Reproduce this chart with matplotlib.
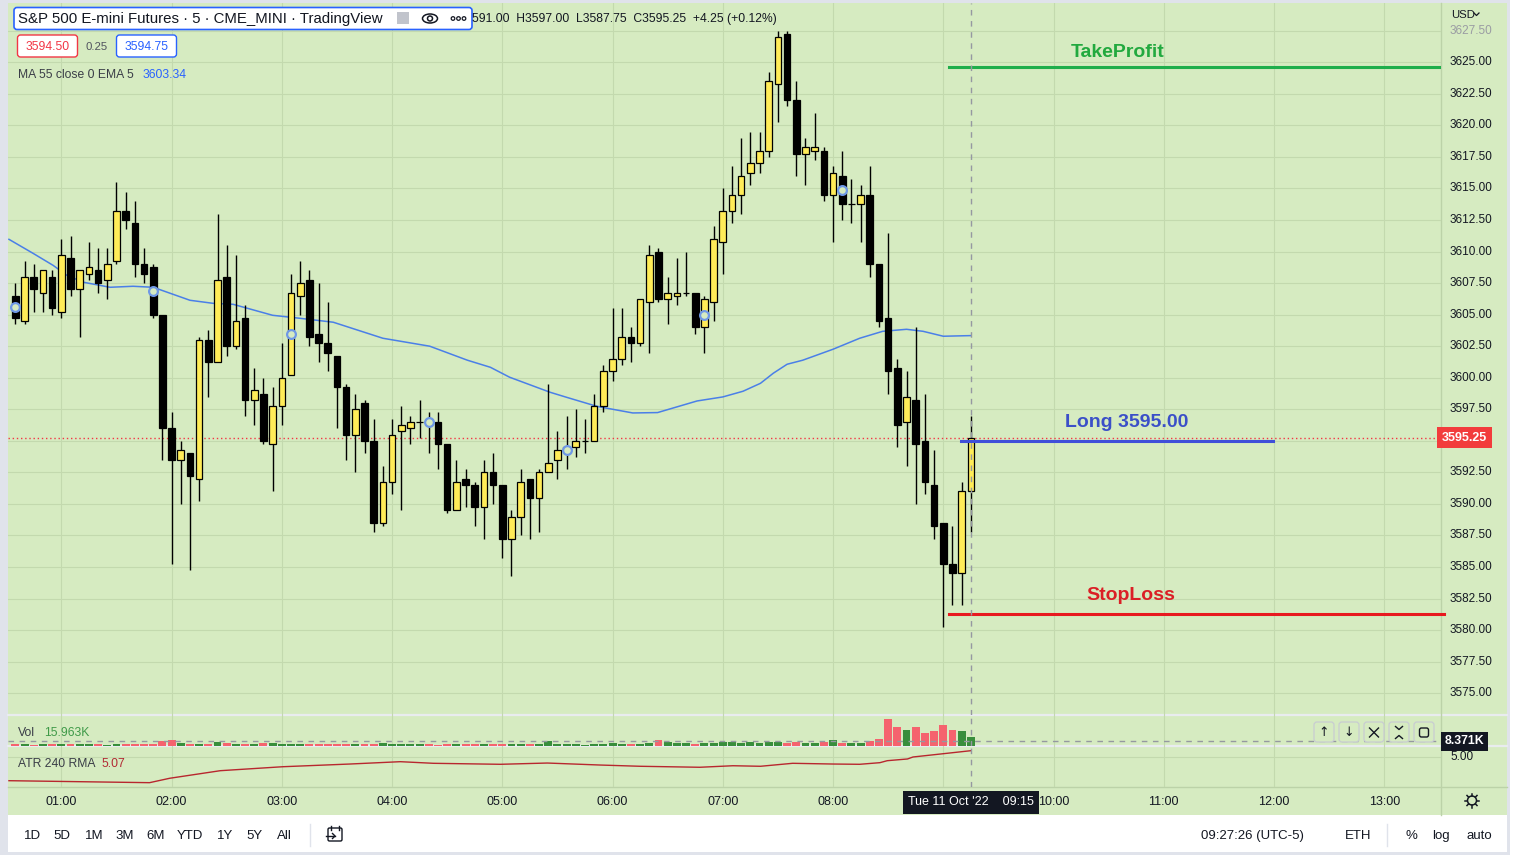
import matplotlib
matplotlib.use('Agg')
import matplotlib.pyplot as plt
from matplotlib.patches import Rectangle, FancyBboxPatch, Circle, Ellipse
from matplotlib.transforms import blended_transform_factory as btf

W, H = 1515, 855
plt.rcParams['font.family'] = ['Liberation Sans', 'DejaVu Sans']

# ---------------- data ----------------
start_minute = 35          # first bar 00:35, 5-minute bars
bar_minutes = 5
opens = [3606.5, 3604.5, 3608, 3606.75, 3608, 3605.25, 3609.5, 3607, 3608.25, 3608.5,
         3607.75, 3609.25, 3613.25, 3612.25, 3609, 3608.75, 3605, 3596, 3593.5, 3594,
         3592, 3603, 3601.25, 3608, 3602.5, 3604.75, 3598.25, 3598.75, 3594.75, 3597.75,
         3600.25, 3606.5, 3607.75, 3603.5, 3602.75, 3601.75, 3599.25, 3595.5, 3598, 3595,
         3588.5, 3591.75, 3595.75, 3596, 3596.5, 3596.5, 3596.5, 3594.75, 3589.5, 3592,
         3591.5, 3589.75, 3592.5, 3591.5, 3587.25, 3589, 3592, 3590.5, 3592.5, 3593.5,
         3594.25, 3594.5, 3595, 3595, 3597.75, 3600.5, 3601.5, 3603.25, 3602.75, 3606,
         3610, 3606.25, 3606.5, 3606.75, 3606.75, 3604, 3606, 3610.75, 3613.25, 3614.5,
         3616.25, 3617, 3618, 3623.25, 3627.25, 3622, 3617.75, 3618, 3618, 3614.5,
         3616, 3613.75, 3613.75, 3614.5, 3609, 3604.75, 3600.75, 3596.5, 3598.25, 3595,
         3591.5, 3588.5, 3585.25, 3584.5, 3591]
highs = [3607.5, 3609.25, 3609, 3608.5, 3608.5, 3611, 3611.25, 3608.5, 3610.75, 3610.25,
         3610.25, 3615.5, 3614.75, 3614, 3610.25, 3609, 3605, 3597.25, 3595, 3594,
         3603.25, 3603.75, 3613, 3610.5, 3609.75, 3605.75, 3600.75, 3600, 3599.25, 3602.75,
         3608.25, 3609.25, 3608.5, 3607.5, 3606, 3601.75, 3599.5, 3598.75, 3598.25, 3596.75,
         3593, 3596.75, 3597.75, 3597, 3598.25, 3597.25, 3597.25, 3594.75, 3593.5, 3592.75,
         3591.75, 3593.5, 3594, 3591.5, 3589.5, 3592.75, 3592, 3592.75, 3599.5, 3595.75,
         3597, 3597.5, 3596.75, 3598.75, 3601, 3605.5, 3605.5, 3604, 3606.25, 3610.5,
         3610.25, 3608, 3609.5, 3610, 3606.75, 3606.5, 3612, 3615, 3616.75, 3619,
         3619.5, 3619.5, 3624.25, 3627.5, 3627.5, 3623.5, 3619, 3621, 3618.25, 3616.75,
         3618, 3615.75, 3615.25, 3616.75, 3609, 3611.5, 3601.5, 3600.5, 3604, 3598.75,
         3594.25, 3588.5, 3588.25, 3591.75, 3597]
lows = [3604.25, 3604.25, 3605.25, 3605.25, 3605, 3604.75, 3606.5, 3603.25, 3607.75, 3606.75,
        3606.25, 3609, 3611.75, 3608, 3607.5, 3604.75, 3593.5, 3585.25, 3590, 3584.75,
        3590.25, 3598.5, 3601.25, 3601.75, 3602.25, 3597, 3596.25, 3594.75, 3591, 3596.25,
        3600.25, 3605, 3602.5, 3601.25, 3600.5, 3596, 3593.5, 3592.5, 3594, 3587.75,
        3588.25, 3590.75, 3589.5, 3594.75, 3595.25, 3594, 3592.75, 3589.25, 3589.5, 3589.75,
        3588.25, 3587.25, 3590, 3585.75, 3584.25, 3587.5, 3587.25, 3587.75, 3592.5, 3592,
        3592.75, 3593.75, 3594, 3595, 3597.25, 3599.75, 3601, 3601.25, 3602.5, 3602,
        3606, 3604.25, 3605.75, 3606.5, 3603.5, 3602, 3604.5, 3608.25, 3612.25, 3613,
        3615.25, 3616.25, 3617.5, 3620.25, 3621.5, 3616, 3615.25, 3617.25, 3614, 3610.75,
        3612.5, 3612.25, 3610.75, 3608, 3604, 3598.75, 3594.5, 3593, 3590, 3590.75,
        3587.25, 3580.25, 3582, 3582, 3587.75]
closes = [3604.75, 3608, 3607, 3608.5, 3605.5, 3609.75, 3607, 3608.5, 3608.75, 3607.5,
          3609, 3613.25, 3612.5, 3609, 3608.25, 3605, 3596, 3593.5, 3594.25, 3592.25,
          3603, 3601.25, 3607.75, 3602.5, 3604.5, 3598.25, 3599, 3595, 3597.75, 3600,
          3606.75, 3607.5, 3603.25, 3602.75, 3602, 3599.25, 3595.5, 3597.5, 3595, 3588.5,
          3591.75, 3595.5, 3596.25, 3596.5, 3596.5, 3596.25, 3594.75, 3589.5, 3591.75, 3591.5,
          3589.75, 3592.5, 3591.5, 3587.25, 3589, 3591.75, 3590.5, 3592.5, 3593.25, 3594.25,
          3594.5, 3595, 3595, 3597.75, 3600.5, 3601.5, 3603.25, 3602.75, 3606.25, 3609.75,
          3606.25, 3606.75, 3606.75, 3606.75, 3604, 3606.25, 3611, 3613.25, 3614.5, 3616,
          3617, 3618, 3623.5, 3627, 3622, 3617.75, 3618.25, 3618.25, 3614.5, 3616.25,
          3613.75, 3613.75, 3614.5, 3609, 3604.5, 3600.5, 3596.25, 3598.5, 3594.75, 3591.75,
          3588.25, 3585.25, 3584.5, 3591, 3595.25]
volumes_k = [3.5, 3.5, 2.0, 3.0, 3.5, 3.5, 3.5, 3.5, 3.5, 3.5,
             2.5, 3.0, 3.0, 3.5, 3.0, 3.0, 9.5, 10.6, 4.5, 4.0,
             4.0, 4.0, 7.5, 4.5, 3.5, 3.5, 3.5, 4.5, 4.5, 3.5,
             3.5, 3.5, 3.5, 3.5, 3.5, 3.5, 3.5, 3.5, 3.5, 3.5,
             4.5, 3.5, 3.5, 3.5, 3.5, 3.5, 2.0, 3.5, 3.5, 3.5,
             3.5, 3.5, 3.5, 3.5, 3.5, 3.5, 3.5, 3.5, 8.3, 3.5,
             3.5, 3.5, 1.8, 3.5, 3.5, 5.3, 3.5, 3.5, 3.5, 5.3,
             10.6, 7.1, 5.3, 5.3, 3.5, 5.3, 5.3, 7.1, 7.1, 5.3,
             7.1, 5.3, 7.1, 7.1, 5.3, 7.1, 5.3, 5.3, 7.1, 10.6,
             5.3, 5.3, 5.3, 8.9, 12.4, 47.9, 33.7, 28.4, 33.7, 23.0,
             26.6, 37.3, 28.4, 26.6, 15.963]
ma_idx = [-0.7, 1.9, 4.1, 5.6, 7.4, 10.3, 12.8, 15.0, 19.0, 21.5, 23.7, 28.0, 31.0, 34.6,
          40.0, 45.1, 49.2, 51.7, 53.8, 58.2, 60.0, 62.9, 63.6, 67.2, 69.9, 74.2, 77.0,
          79.2, 81.1, 82.5, 84.0, 85.7, 89.0, 91.9, 94.4, 97.0, 98.8, 101.0, 104.0]
ma_val = [3610.97, 3609.87, 3608.91, 3608.12, 3607.57, 3607.17, 3607.25, 3607.17, 3606.14,
          3605.90, 3605.82, 3604.95, 3604.71, 3604.40, 3603.13, 3602.50, 3601.39, 3600.83,
          3600.04, 3598.85, 3598.45, 3597.82, 3597.69, 3597.21, 3597.24, 3598.16, 3598.48,
          3598.93, 3599.56, 3600.36, 3601.07, 3601.39, 3602.26, 3603.13, 3603.68, 3603.84,
          3603.68, 3603.29, 3603.34]
atr_idx = [-0.7, 14.6, 16.8, 22.3, 29.1, 36.4, 41.9, 45.5, 52.8, 57.9, 63.6, 68.0, 74.5,
           78.1, 81.1, 84.6, 89.0, 91.9, 94.1, 94.9, 97.1, 97.7, 101.4, 104.0]
atr_val = [4.737, 4.715, 4.764, 4.848, 4.892, 4.922, 4.948, 4.930, 4.919, 4.933, 4.911,
           4.897, 4.886, 4.903, 4.897, 4.930, 4.922, 4.919, 4.937, 4.959, 4.978, 5.000,
           5.041, 5.070]
marker_idx = [0, 15, 30, 45, 60, 75, 90]
marker_val = [3605.6, 3606.9, 3603.5, 3596.5, 3594.3, 3605.0, 3614.85]
price_ticks = [3575 + 2.5 * k for k in range(22)]
hour_labels = ['01:00', '02:00', '03:00', '04:00', '05:00', '06:00', '07:00', '08:00',
               '09:00', '10:00', '11:00', '12:00', '13:00']
take_profit = 3624.6
entry_price = 3595.00
stop_loss = 3581.25
last_price = 3595.25
atr_tick = 5.00
crosshair_vol_k = 8.371

# ---------------- layout ----------------
PX_BAR, PX_I0 = 9.187, 15.4
X_L, X_AX, X_R = 8, 1441, 1507
Y_T, Y_MAIN, Y_VOL, Y_ATR, Y_TIME, Y_BOT = 3, 715, 746, 787, 815, 852
PX_PT = 12.618
P_TOP = 3625 + (62.3 - Y_T) / PX_PT
P_BOT = P_TOP - (Y_MAIN - Y_T) / PX_PT
XLIM = ((X_L - PX_I0) / PX_BAR, (X_AX - PX_I0) / PX_BAR)

BG = '#d6ebc1'
GRID = '#c3d9ae'
DARK = '#131722'
UP = '#ffec58'
VOL_UP, VOL_DN = '#388e3c', '#f5636e'
CROSS = '#9598a1'


def pos(x0, y0, x1, y1):
    return [x0 / W, 1 - y1 / H, (x1 - x0) / W, (y1 - y0) / H]


def hour_idx(lbl):
    h, m = lbl.split(':')
    return (int(h) * 60 + int(m) - start_minute) / bar_minutes


fig = plt.figure(figsize=(W / 100, H / 100), dpi=100, facecolor='#e0e3eb')

bg = fig.add_axes([0, 0, 1, 1], zorder=0)
bg.set_xlim(0, W); bg.set_ylim(H, 0); bg.axis('off')
bg.add_patch(Rectangle((X_L, Y_T), X_R - X_L, Y_TIME - Y_T, fc=BG, ec='none'))
bg.add_patch(Rectangle((X_L, Y_TIME), X_R - X_L, Y_BOT - Y_TIME, fc='white', ec='none'))
bg.add_patch(Rectangle((1510, 0), 5, H, fc='white', ec='none'))
bg.plot([X_L, X_R], [Y_MAIN, Y_MAIN], color='#e9ecef', lw=1.6)
bg.plot([X_L, X_R], [Y_VOL, Y_VOL], color='#e9ecef', lw=1.6)
bg.plot([X_L, X_R], [Y_ATR, Y_ATR], color='#bcd2a8', lw=1.0)
bg.plot([X_AX, X_AX], [Y_T, Y_TIME], color='#bcd2a8', lw=1.0)

n = len(opens)
idx = list(range(n))

# ---------------- main pane ----------------
ax = fig.add_axes(pos(X_L, Y_T, X_AX, Y_MAIN), zorder=5)
ax.set_facecolor('none')
ax.set_xlim(*XLIM); ax.set_ylim(P_BOT, P_TOP)
for s in ax.spines.values():
    s.set_visible(False)
ax.set_xticks([]); ax.set_yticks([])
for p in price_ticks:
    ax.axhline(p, color=GRID, lw=0.8, zorder=0)
for lbl in hour_labels:
    ax.axvline(hour_idx(lbl), color=GRID, lw=0.8, zorder=0)

ax.plot(ma_idx, ma_val, color='#4a7fe8', lw=1.1, zorder=2)
ax.vlines(idx, lows, highs, color='black', lw=1.0, zorder=3)
body_b = [min(o, c) for o, c in zip(opens, closes)]
body_h = [abs(c - o) for o, c in zip(opens, closes)]
body_c = [UP if c > o else 'black' for o, c in zip(opens, closes)]
ax.bar(idx, body_h, bottom=body_b, width=0.72, color=body_c, edgecolor='black',
       linewidth=0.9, zorder=4)
ax.scatter(marker_idx, marker_val, s=40, facecolors=BG, edgecolors='#6f98e6',
           linewidths=1.6, zorder=5)

ax.axhline(last_price, color='#f23645', lw=1.0, ls=(0, (1, 2)), zorder=1)
ax.plot([101.6, XLIM[1]], [take_profit, take_profit], color='#1fae4b', lw=2.2, zorder=6)
ax.plot([102.9, 136.9], [entry_price, entry_price], color='#3f4fd9', lw=2.2, zorder=6)
ax.plot([101.6, XLIM[1] + 0.3], [stop_loss, stop_loss], color='#e8191f', lw=2.2,
        zorder=6, clip_on=False)
ax.annotate('TakeProfit', xy=(120.0, take_profit), xytext=(0, 11), textcoords='offset points',
            ha='center', va='center', fontsize=14, fontweight='bold', color='#22a93f', zorder=7)
ax.annotate('Long 3595.00', xy=(121.0, entry_price), xytext=(0, 13), textcoords='offset points',
            ha='center', va='center', fontsize=14, fontweight='bold', color='#3b4fc8', zorder=7)
ax.annotate('StopLoss', xy=(121.4, stop_loss), xytext=(0, 13.5), textcoords='offset points',
            ha='center', va='center', fontsize=14, fontweight='bold', color='#db1f26', zorder=7)
ax.axvline(104, color=CROSS, lw=1.0, ls=(0, (4, 4)), zorder=6)

# right price axis labels (the one hidden under the last-price tag is skipped)
tr = btf(ax.transAxes, ax.transData)
xr = (1450 - X_L) / (X_AX - X_L)
for p in price_ticks:
    if abs(p - last_price) < 1.0:
        continue
    ax.text(xr, p, f'{p:.2f}', transform=tr, ha='left', va='center', fontsize=8.5,
            color=DARK if p < 3627 else '#9a9ca3', clip_on=False)
ax.text((1441.5 - X_L) / (X_AX - X_L), last_price, f'{last_price:.2f}', transform=tr,
        ha='left', va='center', fontsize=9, fontweight='bold', color='white',
        bbox=dict(boxstyle='square,pad=0.38', fc='#f23c3c', ec='none'), clip_on=False, zorder=8)

# ---------------- volume pane ----------------
axv = fig.add_axes(pos(X_L, Y_MAIN, X_AX, Y_VOL), zorder=5)
axv.set_facecolor('none')
axv.set_xlim(*XLIM); axv.set_ylim(0, (Y_VOL - Y_MAIN) * 15.963 / 9)
axv.axis('off')
for lbl in hour_labels:
    axv.axvline(hour_idx(lbl), color=GRID, lw=0.8, zorder=0)
vcol = [VOL_UP if c >= o else VOL_DN for o, c in zip(opens, closes)]
axv.bar(idx, volumes_k, width=0.86, color=vcol, zorder=2)
axv.axhline(crosshair_vol_k, color=CROSS, lw=1.0, ls=(0, (4, 4)), zorder=3)
axv.axvline(104, color=CROSS, lw=1.0, ls=(0, (4, 4)), zorder=3)
trv = btf(axv.transAxes, axv.transData)
axv.text((1445 - X_L) / (X_AX - X_L), crosshair_vol_k, f'{crosshair_vol_k:.3f}K', transform=trv,
         ha='left', va='center', fontsize=8.8, fontweight='bold', color='white',
         bbox=dict(boxstyle='square,pad=0.3', fc=DARK, ec='none'), clip_on=False, zorder=8)

# ---------------- ATR pane ----------------
axa = fig.add_axes(pos(X_L, Y_VOL, X_AX, Y_ATR), zorder=5)
axa.set_facecolor('none')
axa.set_xlim(*XLIM)
axa.set_ylim(5.0 - (Y_ATR - 757) * 0.0111, 5.0 + (757 - Y_VOL) * 0.0111)
axa.axis('off')
for lbl in hour_labels:
    axa.axvline(hour_idx(lbl), color=GRID, lw=0.8, zorder=0)
axa.axhline(atr_tick, color=GRID, lw=0.8, zorder=0)
axa.plot(atr_idx, atr_val, color='#b8262e', lw=1.0, zorder=2)
axa.axvline(104, color=CROSS, lw=1.0, ls=(0, (4, 4)), zorder=3)
tra = btf(axa.transAxes, axa.transData)
axa.text(xr, atr_tick, f'{atr_tick:.2f}', transform=tra, ha='left', va='center',
         fontsize=8.5, color=DARK, clip_on=False)

# ---------------- time axis ----------------
axt = fig.add_axes(pos(X_L, Y_ATR, X_AX, Y_TIME), zorder=5)
axt.set_facecolor('none'); axt.set_xlim(*XLIM); axt.set_ylim(0, 1); axt.axis('off')
for lbl in hour_labels:
    if lbl != '09:00':
        axt.text(hour_idx(lbl), 0.45, lbl, ha='center', va='center', fontsize=9, color=DARK)
axt.text(104, 0.45, "Tue 11 Oct '22    09:15", ha='center', va='center', fontsize=9,
         color='white', bbox=dict(boxstyle='square,pad=0.42', fc=DARK, ec='none'), zorder=8)

# ---------------- UI overlay ----------------
ui = fig.add_axes([0, 0, 1, 1], zorder=10)
ui.set_xlim(0, W); ui.set_ylim(H, 0); ui.axis('off')

ui.add_patch(FancyBboxPatch((14, 7.5), 458, 22, boxstyle='round,pad=0,rounding_size=3',
                            fc='white', ec='#2962ff', lw=1.2))
ui.text(18, 19, 'S&P 500 E-mini Futures · 5 · CME_MINI · TradingView', ha='left',
        va='center', fontsize=10.8, color=DARK)
ui.add_patch(Rectangle((397, 12), 12, 12, fc='#c1c4cc', ec='none'))
ui.add_patch(Ellipse((430, 18.5), 15, 9, fc='none', ec=DARK, lw=1.1))
ui.add_patch(Circle((430, 18.5), 2.5, fc='none', ec=DARK, lw=1.1))
for cx in (453, 458.5, 464):
    ui.add_patch(Circle((cx, 18.5), 1.8, fc='none', ec=DARK, lw=0.9))
ui.text(472, 19, '591.00  H3597.00  L3587.75  C3595.25  +4.25 (+0.12%)', ha='left',
        va='center', fontsize=8.7, color=DARK)

ui.add_patch(FancyBboxPatch((17.5, 35), 60, 22, boxstyle='round,pad=0,rounding_size=3',
                            fc='white', ec='#f23645', lw=1.0))
ui.text(47.5, 46.5, '3594.50', ha='center', va='center', fontsize=8.7, color='#f23645')
ui.text(97, 46.5, '0.25', ha='center', va='center', fontsize=8.2, color='#50535e')
ui.add_patch(FancyBboxPatch((116.5, 35), 60, 22, boxstyle='round,pad=0,rounding_size=3',
                            fc='white', ec='#2962ff', lw=1.0))
ui.text(146.5, 46.5, '3594.75', ha='center', va='center', fontsize=8.7, color='#2962ff')
ui.text(18, 74.5, 'MA 55 close 0 EMA 5', ha='left', va='center', fontsize=8.7, color='#3a3d47')
ui.text(143, 74.5, '3603.34', ha='left', va='center', fontsize=8.7, color='#2962ff')

ui.text(18, 732.5, 'Vol', ha='left', va='center', fontsize=8.7, color='#3a3d47')
ui.text(44, 732.5, '15.963K', ha='left', va='center', fontsize=8.7, color='#3f9a48')
ui.text(18, 763.5, 'ATR 240 RMA', ha='left', va='center', fontsize=8.7, color='#3a3d47')
ui.text(101, 763.5, '5.07', ha='left', va='center', fontsize=8.7, color='#b22833')

ui.text(1451, 14.5, 'USD', ha='left', va='center', fontsize=8.2, color=DARK)
ui.plot([1474, 1476.5, 1479], [13, 15.5, 13], color=DARK, lw=0.9)

# pane buttons
for bx in (1324, 1349, 1374, 1399, 1424):
    ui.add_patch(FancyBboxPatch((bx - 10, 722), 20, 20, boxstyle='round,pad=0,rounding_size=3',
                                fc=BG, ec='#c8ccd2', lw=0.9))
ui.text(1324, 732.5, '↑', ha='center', va='center', fontsize=9, color=DARK,
        family='DejaVu Sans')
ui.text(1349, 732.5, '↓', ha='center', va='center', fontsize=9, color=DARK,
        family='DejaVu Sans')
ui.plot([1369.5, 1378.5], [728, 737], color=DARK, lw=1.0)
ui.plot([1369.5, 1378.5], [737, 728], color=DARK, lw=1.0)
ui.plot([1395.5, 1399, 1402.5], [726.5, 729.5, 726.5], color=DARK, lw=1.0)
ui.plot([1395.5, 1399, 1402.5], [738.5, 735.5, 738.5], color=DARK, lw=1.0)
ui.add_patch(FancyBboxPatch((1419.5, 728), 9, 9, boxstyle='round,pad=0,rounding_size=2',
                            fc='none', ec=DARK, lw=1.0))

# settings icon on time axis
ui.add_patch(Circle((1472, 800.5), 4.5, fc='none', ec=DARK, lw=1.1))
for dx, dy in ((0, -7), (0, 7), (-7, 0), (7, 0), (-5, -5), (5, 5), (-5, 5), (5, -5)):
    ui.plot([1472 + dx * 0.7, 1472 + dx], [800.5 + dy * 0.7, 800.5 + dy], color=DARK, lw=1.1)

# bottom toolbar
for lbl, bx in (('1D', 33), ('5D', 62), ('1M', 94), ('3M', 125), ('6M', 156), ('YTD', 190),
                ('1Y', 225), ('5Y', 254), ('All', 284)):
    ui.text(bx, 835.5, lbl, ha='center', va='center', fontsize=9.5, color=DARK)
ui.plot([310, 310], [824, 846], color='#e0e3eb', lw=1.0)
ui.add_patch(FancyBboxPatch((328, 828), 14, 13, boxstyle='round,pad=0,rounding_size=1.5',
                            fc='none', ec=DARK, lw=1.0))
ui.plot([331, 331], [826, 830], color=DARK, lw=1.0)
ui.plot([339, 339], [826, 830], color=DARK, lw=1.0)
ui.plot([326, 335], [836, 836], color=DARK, lw=1.0)
ui.plot([332.5, 335, 332.5], [833.5, 836, 838.5], color=DARK, lw=1.0)
ui.text(1252, 835.5, '09:27:26 (UTC-5)', ha='center', va='center', fontsize=9.5, color=DARK)
ui.text(1358, 835.5, 'ETH', ha='center', va='center', fontsize=9.5, color=DARK)
ui.plot([1387, 1387], [824, 846], color='#e0e3eb', lw=1.0)
ui.text(1411, 835.5, '%', ha='center', va='center', fontsize=9.5, color=DARK)
ui.text(1441, 835.5, 'log', ha='center', va='center', fontsize=9.5, color=DARK)
ui.text(1479, 835.5, 'auto', ha='center', va='center', fontsize=9.5, color=DARK)

fig.savefig('out.png', dpi=100, facecolor=fig.get_facecolor())
